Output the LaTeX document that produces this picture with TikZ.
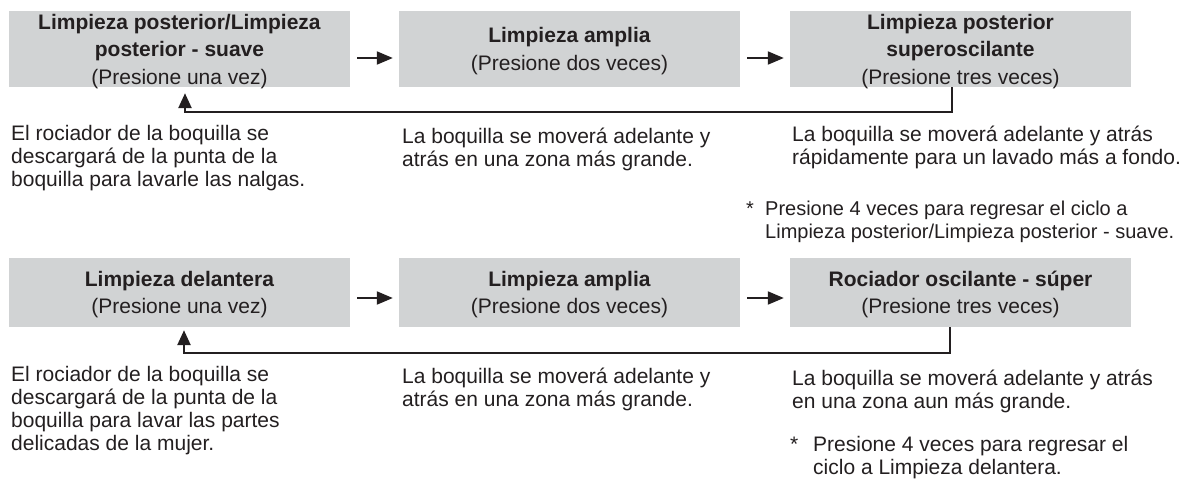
\documentclass[tikz,border=0pt]{standalone}
\usepackage{fontspec}
\setmainfont{Liberation Sans}
\usetikzlibrary{arrows.meta}
\definecolor{ink}{HTML}{231F20}
\definecolor{boxgray}{HTML}{D1D3D4}
\begin{document}
\begin{tikzpicture}[x=1pt,y=-1pt,
  modebox/.style={fill=boxgray, inner sep=0pt, minimum width=341pt, align=center, font=\fontsize{21}{27.5}\selectfont, text=ink, text depth=-1.6pt},
  desc/.style={anchor=base west, inner sep=0pt, align=left, font=\fontsize{21}{23}\selectfont, text=ink},
  arr/.style={draw=ink, line width=2pt, shorten <=7pt, shorten >=6pt, -{Triangle[length=16pt,width=13pt]}},
  fb/.style={draw=ink, line width=2.5pt, -{Triangle[length=15pt,width=13pt]}}]
\useasboundingbox (0,0) rectangle (1184,483);
% row 1
\node[modebox, minimum height=76pt] (a1) at (179.5,49) {\textbf{Limpieza posterior/Limpieza}\\\textbf{posterior - suave}\\(Presione una vez)};
\node[modebox, minimum height=76pt] (a2) at (569.5,49) {\textbf{Limpieza amplia}\\(Presione dos veces)};
\node[modebox, minimum height=76pt] (a3) at (960.5,49) {\textbf{Limpieza posterior}\\\textbf{superoscilante}\\(Presione tres veces)};
\draw[arr] ([yshift=-9pt]a1.east) -- ([yshift=-9pt]a2.west);
\draw[arr] ([yshift=-9pt]a2.east) -- ([yshift=-9pt]a3.west);
\draw[fb, shorten >=6pt] ([xshift=-8.5pt]a3.south) -- ++(0,25) -| ([xshift=5.5pt]a1.south);
\node[desc] (d1) at (11,186.5) {El rociador de la boquilla se\\descargará de la punta de la\\boquilla para lavarle las nalgas.};
\node[desc] (d2) at (402,166) {La boquilla se moverá adelante y\\atrás en una zona más grande.};
\node[desc] (d3) at (792,164) {La boquilla se moverá adelante y atrás\\rápidamente para un lavado más a fondo.};
\node[desc, font=\fontsize{20}{23}\selectfont] (n1) at (746,238) {\makebox[19pt][l]{*}Presione 4 veces para regresar el ciclo a\\\hspace*{19pt}Limpieza posterior/Limpieza posterior - suave.};
% row 2
\node[modebox, minimum height=69pt] (b1) at (179.5,292.5) {\textbf{Limpieza delantera}\\(Presione una vez)};
\node[modebox, minimum height=69pt] (b2) at (569.5,292.5) {\textbf{Limpieza amplia}\\(Presione dos veces)};
\node[modebox, minimum height=69pt] (b3) at (960.5,292.5) {\textbf{Rociador oscilante - súper}\\(Presione tres veces)};
\draw[arr] ([yshift=-5.5pt]b1.east) -- ([yshift=-5.5pt]b2.west);
\draw[arr] ([yshift=-5.5pt]b2.east) -- ([yshift=-5.5pt]b3.west);
\draw[fb, shorten >=3pt] ([xshift=-10.5pt]b3.south) -- ++(0,26) -| ([xshift=4.5pt]b1.south);
\node[desc] (e1) at (11,450.7) {El rociador de la boquilla se\\descargará de la punta de la\\boquilla para lavar las partes\\delicadas de la mujer.};
\node[desc] (e2) at (402,406.3) {La boquilla se moverá adelante y\\atrás en una zona más grande.};
\node[desc] (e3) at (792,408) {La boquilla se moverá adelante y atrás\\en una zona aun más grande.};
\node[desc] (m1) at (790,474.7) {\makebox[23pt][l]{*}Presione 4 veces para regresar el\\\hspace*{23pt}ciclo a Limpieza delantera.};
\end{tikzpicture}
\end{document}
